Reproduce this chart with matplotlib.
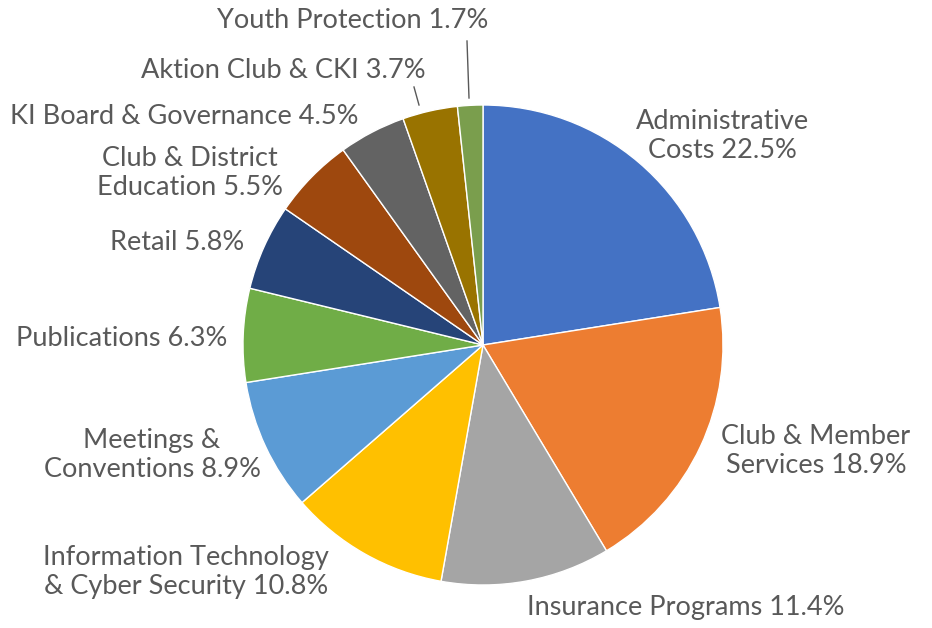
import matplotlib.pyplot as plt

# --- Data ---
labels = ["Administrative\nCosts", "Club & Member\nServices", "Insurance Programs",
          "Information Technology\n& Cyber Security", "Meetings &\nConventions",
          "Publications", "Retail", "Club & District\nEducation",
          "KI Board & Governance", "Aktion Club & CKI", "Youth Protection"]
shares = [22.5, 18.9, 11.4, 10.8, 8.9, 6.3, 5.8, 5.5, 4.5, 3.7, 1.7]
colors = ["#4472C4", "#ED7D31", "#A5A5A5", "#FFC000", "#5B9BD5", "#70AD47",
          "#264478", "#9E480E", "#636363", "#997300", "#7A9E4D"]

# label anchor points (pixel coords, y measured from top)
label_pos = [(722, 136), (816, 451), (686, 607), (186, 572), (152, 455),
             (122, 338), (177, 243), (190, 173), (184, 116), (283, 70), (353, 20)]

W, H = 932, 628
fig = plt.figure(figsize=(W / 100, H / 100), dpi=100)
ax = fig.add_axes([0, 0, 1, 1])

ax.pie(shares, colors=colors, startangle=90, counterclock=False,
       center=(483, H - 345), radius=240,
       wedgeprops=dict(edgecolor="white", linewidth=1))
ax.set_xlim(0, W)
ax.set_ylim(0, H)
ax.set_aspect("equal")
ax.axis("off")

for lab, val, (x, y) in zip(labels, shares, label_pos):
    ax.text(x, H - y, f"{lab} {val}%", ha="center", va="center",
            fontsize=19.5, color="#595959", family=["Lato", "DejaVu Sans"],
            linespacing=1.22, multialignment="center")

# leader lines for the two small slices
ax.plot([414, 419], [H - 87, H - 105], color="#595959", lw=1)
ax.plot([467, 469], [H - 41, H - 98], color="#595959", lw=1)

fig.savefig("out.png", dpi=100)
